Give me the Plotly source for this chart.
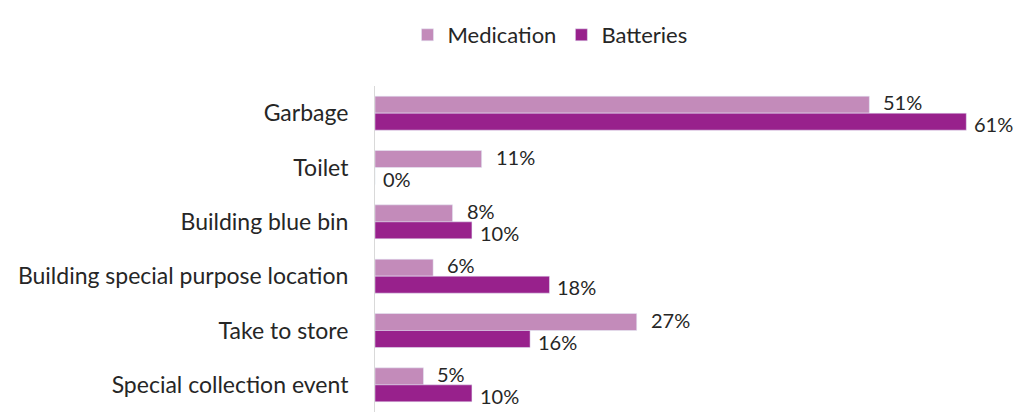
import plotly.graph_objects as go

categories = [
    "Garbage",
    "Toilet",
    "Building blue bin",
    "Building special purpose location",
    "Take to store",
    "Special collection event",
]
medication = [51, 11, 8, 6, 27, 5]
batteries = [61, 0, 10, 18, 16, 10]

FONT = "Lato"
TEXT = "#262626"
MED_COLOR = "#c38bba"
BAT_COLOR = "#98218c"

fig = go.Figure()
fig.add_trace(go.Bar(
    name="Medication", y=categories, x=medication, orientation="h",
    marker=dict(color=MED_COLOR),
))
fig.add_trace(go.Bar(
    name="Batteries", y=categories, x=batteries, orientation="h",
    marker=dict(color=BAT_COLOR),
))

# value labels to the right of each bar, nudged apart vertically
for cat, m, b in zip(categories, medication, batteries):
    fig.add_annotation(
        x=m, y=cat, text=f"{m}%", showarrow=False, xanchor="left",
        xshift=12, yshift=11, font=dict(family=FONT, size=20, color=TEXT),
    )
    fig.add_annotation(
        x=b, y=cat, text=f"{b}%", showarrow=False, xanchor="left",
        xshift=6, yshift=-11, font=dict(family=FONT, size=20, color=TEXT),
    )

fig.update_layout(
    width=1028, height=417,
    margin=dict(l=375, r=52, t=86, b=5),
    paper_bgcolor="white", plot_bgcolor="white",
    barmode="group", bargap=0.375, bargroupgap=0,
    font=dict(family=FONT, size=23, color=TEXT),
    legend=dict(
        orientation="h", x=0.535, xref="container", xanchor="center",
        y=1 - 35 / 417, yref="container", yanchor="middle",
        font=dict(family=FONT, size=22, color=TEXT),
    ),
    xaxis=dict(range=[0, 62], visible=False),
    yaxis=dict(
        autorange="reversed", showline=True, linecolor="#d9d9d9", linewidth=1,
        showgrid=False, ticks="", ticklabelstandoff=21,
        tickfont=dict(family=FONT, size=23, color=TEXT),
    ),
    showlegend=True,
)

fig.write_html("out.html")
